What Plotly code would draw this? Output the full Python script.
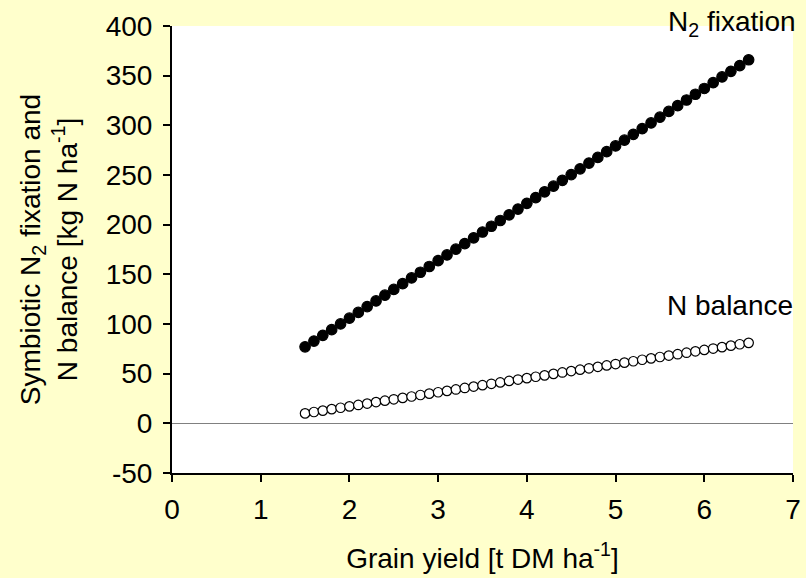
import plotly.graph_objects as go

# Grain yield [t DM/ha]
grain_yield = [1.5, 1.6, 1.7, 1.8, 1.9, 2.0, 2.1, 2.2, 2.3, 2.4,
               2.5, 2.6, 2.7, 2.8, 2.9, 3.0, 3.1, 3.2, 3.3, 3.4,
               3.5, 3.6, 3.7, 3.8, 3.9, 4.0, 4.1, 4.2, 4.3, 4.4,
               4.5, 4.6, 4.7, 4.8, 4.9, 5.0, 5.1, 5.2, 5.3, 5.4,
               5.5, 5.6, 5.7, 5.8, 5.9, 6.0, 6.1, 6.2, 6.3, 6.4, 6.5]

# Symbiotic N2 fixation [kg N/ha]
n2_fixation = [77.0, 82.8, 88.6, 94.3, 100.1, 105.9, 111.7, 117.5, 123.2, 129.0,
               134.8, 140.6, 146.4, 152.1, 157.9, 163.7, 169.5, 175.3, 181.0, 186.8,
               192.6, 198.4, 204.2, 209.9, 215.7, 221.5, 227.3, 233.1, 238.8, 244.6,
               250.4, 256.2, 262.0, 267.7, 273.5, 279.3, 285.1, 290.9, 296.6, 302.4,
               308.2, 314.0, 319.8, 325.5, 331.3, 337.1, 342.9, 348.7, 354.4, 360.2, 366.0]

# N balance [kg N/ha]
n_balance = [10.0, 11.4, 12.8, 14.3, 15.7, 17.1, 18.5, 19.9, 21.4, 22.8,
             24.2, 25.6, 27.0, 28.5, 29.9, 31.3, 32.7, 34.1, 35.6, 37.0,
             38.4, 39.8, 41.2, 42.7, 44.1, 45.5, 46.9, 48.3, 49.8, 51.2,
             52.6, 54.0, 55.4, 56.9, 58.3, 59.7, 61.1, 62.5, 64.0, 65.4,
             66.8, 68.2, 69.6, 71.1, 72.5, 73.9, 75.3, 76.7, 78.2, 79.6, 81.0]

x_ticks = [0, 1, 2, 3, 4, 5, 6, 7]
y_ticks = [-50, 0, 50, 100, 150, 200, 250, 300, 350, 400]

FONT = "Liberation Sans, Arial, sans-serif"
FS = 28

fig = go.Figure()

fig.add_trace(go.Scatter(
    x=grain_yield, y=n2_fixation, mode="markers", name="N2 fixation",
    marker=dict(symbol="circle", size=10.5, color="black",
                line=dict(color="black", width=1.2)),
    cliponaxis=False,
))
fig.add_trace(go.Scatter(
    x=grain_yield, y=n_balance, mode="markers", name="N balance",
    marker=dict(symbol="circle", size=9.5, color="white",
                line=dict(color="black", width=1.2)),
    cliponaxis=False,
))

fig.add_annotation(x=1.0, xref="paper", y=1.005, yref="paper",
                   text="N<sub>2</sub> fixation", showarrow=False,
                   xanchor="right", yanchor="middle", xshift=5,
                   font=dict(family=FONT, size=FS, color="black"))
fig.add_annotation(x=7, xref="x", y=119, yref="y",
                   text="N balance", showarrow=False,
                   xanchor="right", yanchor="middle", xshift=2,
                   font=dict(family=FONT, size=FS, color="black"))

fig.update_layout(
    width=806, height=578,
    margin=dict(l=172, r=13, t=26, b=105),
    paper_bgcolor="#FFFFCC",
    plot_bgcolor="white",
    showlegend=False,
    font=dict(family=FONT, size=FS, color="black"),
)

fig.update_xaxes(
    range=[0, 7], tickvals=x_ticks, ticktext=[str(v) for v in x_ticks],
    showgrid=False, zeroline=False,
    showline=True, linecolor="black", linewidth=2,
    ticks="outside", ticklen=7, tickwidth=2, tickcolor="black",
    tickfont=dict(family=FONT, size=FS), ticklabelstandoff=3,
    title=dict(text="Grain yield [t DM ha<sup>-1</sup>]",
               font=dict(family=FONT, size=FS), standoff=25),
    automargin=False,
)
fig.update_yaxes(
    range=[-50, 400], tickvals=y_ticks, ticktext=[str(v) for v in y_ticks],
    showgrid=False,
    zeroline=True, zerolinecolor="#808080", zerolinewidth=1,
    showline=True, linecolor="black", linewidth=2,
    ticks="outside", ticklen=7, tickwidth=2, tickcolor="black",
    tickfont=dict(family=FONT, size=FS), ticklabelstandoff=5,
    title=dict(text="Symbiotic N<sub>2</sub> fixation and<br>N balance [kg N ha<sup>-1</sup>]",
               font=dict(family=FONT, size=FS), standoff=20),
    automargin=False,
)

fig.write_html("out.html")
